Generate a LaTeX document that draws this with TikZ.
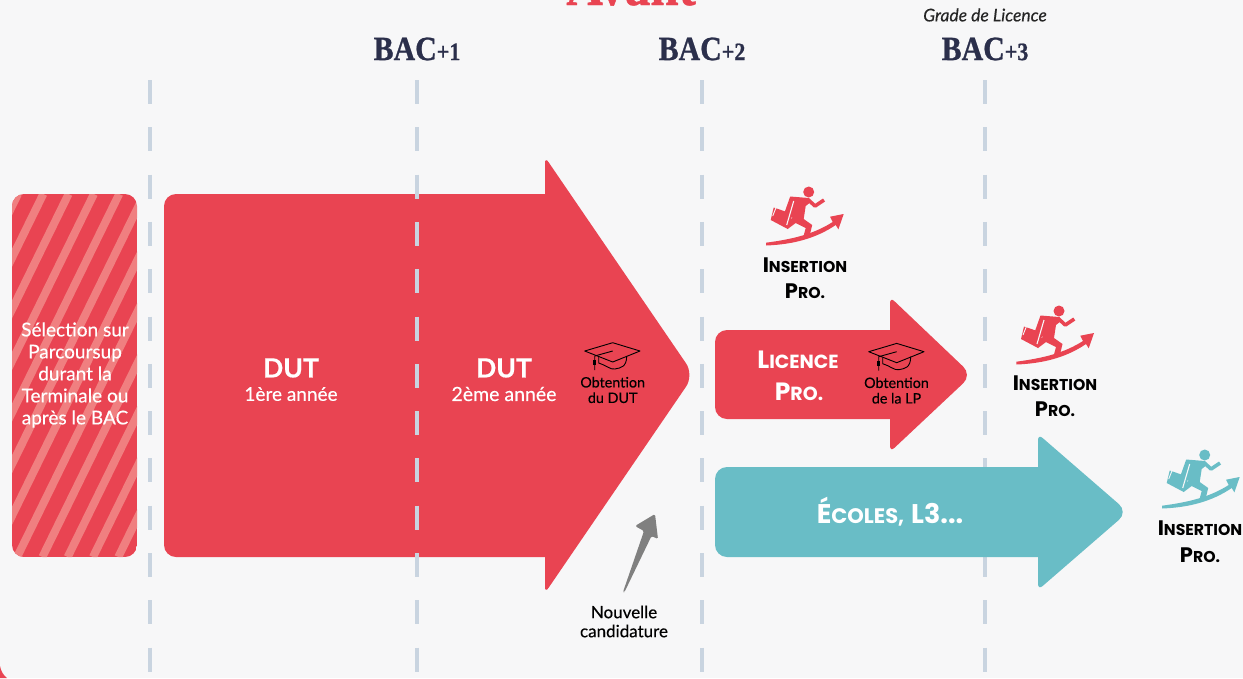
\documentclass[tikz,border=0pt]{standalone}
\usepackage{fontspec}
\setmainfont[FakeBold=0.3]{Lato}
\newfontfamily\titlefont[BoldFeatures={FakeBold=0.8,FakeStretch=0.88}]{Liberation Serif}
\newfontfamily\capsfont{Poppins}
\usetikzlibrary{arrows.meta}
\definecolor{pagebg}{HTML}{F7F7F8}
\definecolor{dutred}{HTML}{E94452}
\definecolor{stripered}{HTML}{F07F80}
\definecolor{ecoleteal}{HTML}{69BDC6}
\definecolor{dashgrey}{HTML}{C9D4E0}
\definecolor{bacnavy}{HTML}{2B2F4B}
\definecolor{arrowgrey}{HTML}{808080}
\newcommand{\bacfont}[1]{{\titlefont\bfseries\fontsize{34}{34}\selectfont BAC{\fontsize{25}{25}\selectfont #1}}}
\newcommand{\mixcaps}[2]{{\capsfont\bfseries\fontsize{#1}{#1}\selectfont #2}}
\tikzset{
  yearline/.style={color=dashgrey,line width=4.4pt,dash pattern=on 24pt off 23.3pt},
  bactext/.style={color=bacnavy,anchor=center,inner sep=0pt},
  smalltext/.style={color=black,align=center,font=\fontsize{14.3}{15.5}\selectfont,inner sep=0pt},
  whitetext/.style={color=white,align=center,inner sep=0pt},
  insertext/.style={color=black,inner sep=0pt},
  pics/runner/.style={code={
    \fill[#1] (0,0) circle (5.5);
    \fill[#1] (-18.5,4.5) -- (0,6) -- (2,10) -- (-3,14) -- (-5,27) -- (3.5,33) -- (1,43.5) -- (-5,43.5) -- (-3,36) -- (-13,31) -- (-21,37) -- (-26,31) -- (-16,26) -- (-24,20) -- cycle;
    \draw[#1,line width=3.6pt,line join=round] (-1,7.3) -- (6.3,14) -- (15.3,8);
    \fill[#1] (-35,15.5) -- (-16,22) -- (-21,37) -- (-38,28) -- cycle;
    \draw[pagebg,line width=1.1pt] (-15,9) -- (-22,33);
    \draw[pagebg,line width=0.9pt] (-32,14) -- (-36,24);
    \fill[#1] (-42.7,50.7) .. controls (-15,47) and (5,42) .. (24,30) -- (21.3,24.7) -- (35,22) -- (29.7,37.3) -- (27,33) .. controls (8,46) and (-15,52.5) .. (-42.7,53.5) -- cycle;
  }},
  pics/gradcap/.style={code={
    \draw[black,line width=0.9pt,line join=round] (-28,0) -- (0,-8.3) -- (27.3,0) -- (0,11) -- cycle;
    \draw[black,line width=0.9pt] (-14,6) -- (-14,12) .. controls (-7,14) and (-2,19) .. (2,18) .. controls (8,17) and (14,16) .. (14,5);
    \draw[black,line width=0.9pt] (0,0) -- (-18,5) -- (-18,19);
    \fill[black] (-19.3,9) rectangle (-16.7,14);
  }}
}
\begin{document}
\begin{tikzpicture}[line cap=butt,x=1pt,y=-1pt]
\useasboundingbox (0,0) rectangle (1243,678);
\fill[pagebg] (0,0) rectangle (1243,678);
\begin{scope}
\clip (0,0) rectangle (1243,678);
% page corner and title
\fill[dutred] (0,666) .. controls (1,671) and (3,675) .. (7,678) -- (0,678) -- cycle;
\node[color=dutred,inner sep=0pt,anchor=base] (avant) at (631,5) {\titlefont\bfseries\fontsize{58}{58}\selectfont Avant};
\end{scope}
% year lines
\draw[yearline] (150,80) -- (150,678);
\draw[yearline] (702,80) -- (702,678);
\draw[yearline] (985,80) -- (985,678);
% selection box
\begin{scope}
\clip[rounded corners=12pt] (12,194) rectangle (137,557);
\fill[dutred] (12,194) rectangle (137,557);
\foreach \i in {0,...,11}
  \draw[stripered,line width=8pt] ({18+25.3*\i},194) -- ({18+25.3*\i-178},557);
\end{scope}
% arrows
\fill[dutred] (164,300) [rounded corners=12pt] -- (164,194) [sharp corners] -- (545,194) [rounded corners=6pt] -- (545,157) [rounded corners=14pt] -- (694,375) [rounded corners=6pt] -- (545,593) [sharp corners] -- (545,557) [rounded corners=12pt] -- (164,557) [sharp corners] -- cycle;
\fill[dutred] (715,375) [rounded corners=12pt] -- (715,330) [sharp corners] -- (890,330) [rounded corners=6pt] -- (890,297) [rounded corners=12pt] -- (972,375) [rounded corners=6pt] -- (890,452) [sharp corners] -- (890,419) [rounded corners=12pt] -- (715,419) [sharp corners] -- cycle;
\fill[ecoleteal] (715,512) [rounded corners=12pt] -- (715,467) [sharp corners] -- (1038,467) [rounded corners=6pt] -- (1038,434) [rounded corners=12pt] -- (1128,512) [rounded corners=6pt] -- (1038,590) [sharp corners] -- (1038,557) [rounded corners=12pt] -- (715,557) [sharp corners] -- cycle;
\draw[yearline] (417,80) -- (417,678);
% years
\node[bactext] (bacun) at (417,49) {\bacfont{+1}};
\node[bactext] (bacdeux) at (702,49) {\bacfont{+2}};
\node[bactext] (bactrois) at (985,49) {\bacfont{+3}};
\node[color=black!85,inner sep=0pt] (grade) at (985,15) {\fontsize{17.5}{17.5}\selectfont\itshape Grade de Licence};
% box texts
\node[whitetext,font=\fontsize{19}{22}\selectfont] (selection) at (75,375) {Sélection sur\\Parcoursup\\durant la\\Terminale ou\\après le BAC};
\node[whitetext,font=\bfseries\fontsize{26.5}{26.5}\selectfont] (dutun) at (291,368) {DUT};
\node[whitetext,font=\fontsize{19}{19}\selectfont] (anneeun) at (291,394) {1ère année};
\node[whitetext,font=\bfseries\fontsize{26.5}{26.5}\selectfont] (dutdeux) at (504,368) {DUT};
\node[whitetext,font=\fontsize{19.5}{19.5}\selectfont] (anneedeux) at (504,394) {2ème année};
\node[smalltext] (obtdut) at (612.7,390) {Obtention\\du DUT};
\node[smalltext] (obtlp) at (896.5,390.5) {Obtention\\de la LP};
\pic at (612.7,351) {gradcap};
\pic at (896.7,351.7) {gradcap};
\node[whitetext] (licence) at (798,360) {\mixcaps{25}{L}\mixcaps{19}{ICENCE}};
\node[whitetext] (pro) at (799,392) {\mixcaps{25}{P}\mixcaps{19}{RO.}};
\node[whitetext] (ecoles) at (890,512) {\mixcaps{27}{É}\mixcaps{21}{COLES,}\hspace{7pt}\mixcaps{27}{L3...}};
% insertion
\pic at (808.7,192) {runner=dutred};
\pic at (1059,311) {runner=dutred};
\pic at (1204.7,455) {runner=ecoleteal};
\node[insertext] (insun) at (805,265) {\mixcaps{21}{I}\mixcaps{15.7}{NSERTION}};
\node[insertext] (prosun) at (805,291) {\mixcaps{21}{P}\mixcaps{15.7}{RO.}};
\node[insertext] (insdeux) at (1055,383) {\mixcaps{21}{I}\mixcaps{15.7}{NSERTION}};
\node[insertext] (prosdeux) at (1055,409) {\mixcaps{21}{P}\mixcaps{15.7}{RO.}};
\node[insertext] (institut) at (1200,528) {\mixcaps{21}{I}\mixcaps{15.7}{NSERTION}};
\node[insertext] (prostrois) at (1200,555) {\mixcaps{21}{P}\mixcaps{15.7}{RO.}};
% new application
\node[smalltext,font=\fontsize{17}{19}\selectfont] (nouvelle) at (624,621.5) {Nouvelle\\candidature};
\coordinate (candtail) at (623,592);
\coordinate (candtip) at (655,514);
\fill[arrowgrey,rounded corners=1.5pt] (candtail) -- (644,531) -- (635,526) -- (candtip) -- (658,539) -- (651.5,536) -- (624.5,592) -- cycle;
\end{tikzpicture}
\end{document}
